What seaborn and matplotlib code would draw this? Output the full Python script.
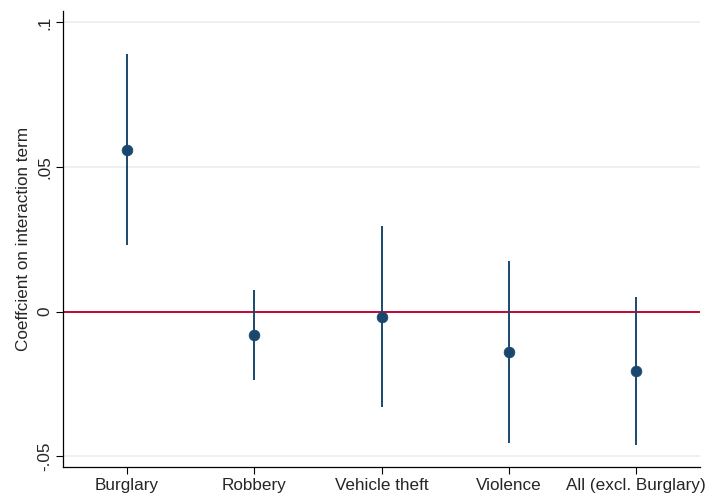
import pandas as pd
import matplotlib
matplotlib.use("Agg")
import matplotlib.pyplot as plt
import seaborn as sns

# === Data ===
crimes = ["Burglary", "Robbery", "Vehicle theft", "Violence", "All (excl. Burglary)"]
coef = [0.0560, -0.0081, -0.0017, -0.0140, -0.0205]
ci_low = [0.0231, -0.0237, -0.0329, -0.0455, -0.0461]
ci_high = [0.0891, 0.0075, 0.0297, 0.0175, 0.0052]

ytick_vals = [-0.05, 0, 0.05, 0.1]
ytick_labels = ["-.05", "0", ".05", ".1"]

df = pd.DataFrame({"crime": crimes, "coef": coef, "lo": ci_low, "hi": ci_high})

# === Style ===
sns.set_style("white")
plt.rcParams["font.family"] = ["Liberation Sans", "DejaVu Sans"]

navy = "#1a476f"
red = "#c10534"
grid = "#e6eef2"
fs = 12.3

fig = plt.figure(figsize=(7.13, 4.96), dpi=100)
ax = fig.add_axes([0.0884, 0.0585, 0.8934, 0.9195])

# gridlines + zero line
for v in ytick_vals:
    ax.axhline(v, color=grid, lw=1.2, zorder=0)
ax.axhline(0, color=red, lw=1.4, zorder=1)

# confidence intervals
ax.vlines(x=range(len(df)), ymin=df["lo"], ymax=df["hi"], color=navy, lw=1.4, zorder=2)

# point estimates
sns.scatterplot(data=df, x="crime", y="coef", color=navy, s=60, edgecolor=navy,
                linewidth=0.5, zorder=3, ax=ax)

ax.set_xlim(-0.5, len(df) - 0.5)
ax.set_ylim(-0.0537, 0.104)
ax.set_yticks(ytick_vals)
ax.set_yticklabels(ytick_labels, rotation=90, va="center", fontsize=fs)
ax.tick_params(axis="x", labelsize=fs)
ax.tick_params(axis="both", direction="out", length=5, width=0.8, color="black",
               bottom=True, left=True, pad=3)
ax.set_xlabel("")
ax.set_ylabel("Coeffcient on interaction term", fontsize=fs, labelpad=4)

sns.despine(ax=ax, top=True, right=True)
for s in ["left", "bottom"]:
    ax.spines[s].set_color("black")
    ax.spines[s].set_linewidth(0.9)

plt.savefig("out.png", dpi=100)
plt.close()
